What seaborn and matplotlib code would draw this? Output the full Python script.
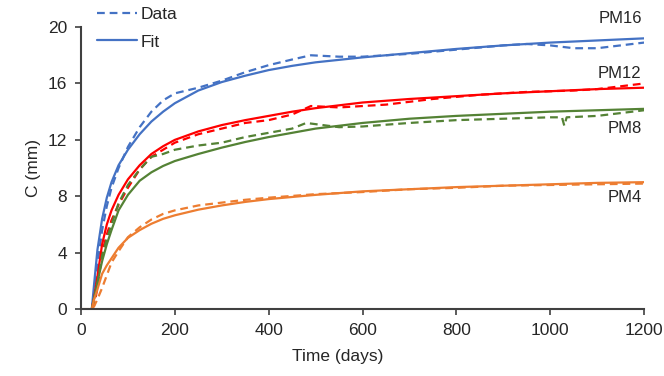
import numpy as np
import pandas as pd
import matplotlib
matplotlib.use('Agg')
import matplotlib.pyplot as plt
from matplotlib.lines import Line2D
import seaborn as sns

# fitted curves
fit_t = [23, 28, 35, 45, 55, 65, 80, 100, 125, 150, 175, 200, 250, 300, 350, 400,
         450, 500, 600, 700, 800, 900, 1000, 1100, 1200]
fit_pm16 = [0, 1.8, 4.2, 6.4, 7.9, 9.0, 10.2, 11.3, 12.4, 13.3, 14.0, 14.6, 15.5,
            16.1, 16.55, 16.95, 17.25, 17.5, 17.85, 18.15, 18.45, 18.7, 18.9, 19.05,
            19.2]
fit_pm12 = [0, 0.8, 2.3, 4.6, 6.0, 7.0, 8.1, 9.2, 10.2, 11.0, 11.55, 12.0, 12.6,
            13.05, 13.4, 13.7, 14.0, 14.25, 14.65, 14.9, 15.1, 15.3, 15.45, 15.6, 15.7]
fit_pm8 = [0, 0.8, 1.9, 3.4, 4.6, 5.6, 7.0, 8.1, 9.1, 9.7, 10.15, 10.5, 11.0, 11.45,
           11.85, 12.2, 12.5, 12.8, 13.2, 13.5, 13.7, 13.85, 14.0, 14.1, 14.2]
fit_pm4 = [0, 0.7, 1.4, 2.5, 3.1, 3.6, 4.35, 5.05, 5.6, 6.05, 6.4, 6.65, 7.05, 7.35,
           7.6, 7.8, 7.95, 8.1, 8.35, 8.5, 8.65, 8.75, 8.85, 8.95, 9.0]

# measured data
pm16_t = [23, 28, 35, 45, 55, 65, 80, 100, 125, 150, 175, 200, 225, 250, 300, 350,
          400, 450, 490, 550, 600, 700, 800, 900, 950, 1000, 1050, 1100, 1150, 1200]
pm16_c = [0, 1.0, 3.2, 5.6, 7.3, 8.6, 10.0, 11.5, 12.9, 14.0, 14.8, 15.3, 15.5, 15.7,
          16.2, 16.8, 17.3, 17.7, 18.0, 17.9, 17.9, 18.1, 18.4, 18.7, 18.8, 18.7,
          18.5, 18.5, 18.7, 18.9]
pm12_t = [23, 28, 35, 45, 55, 65, 80, 100, 125, 150, 175, 200, 250, 300, 350, 400,
          450, 490, 550, 650, 750, 850, 950, 1000, 1050, 1100, 1150, 1200]
pm12_c = [0, 0.3, 1.5, 4.0, 5.3, 6.3, 7.4, 8.6, 9.9, 10.8, 11.3, 11.8, 12.4, 12.8,
          13.2, 13.4, 13.8, 14.4, 14.3, 14.5, 14.9, 15.2, 15.4, 15.45, 15.5, 15.6,
          15.8, 16.0]
pm8_t = [23, 28, 35, 45, 55, 65, 80, 100, 125, 150, 175, 200, 250, 300, 350, 400,
         450, 480, 550, 600, 700, 800, 900, 1000, 1025, 1030, 1035, 1100, 1150, 1200]
pm8_c = [0, 0.5, 1.8, 3.8, 5.0, 6.0, 7.5, 8.8, 9.9, 10.8, 11.0, 11.3, 11.6, 11.8,
         12.2, 12.5, 12.8, 13.2, 12.9, 12.95, 13.2, 13.4, 13.5, 13.6, 13.6, 13.0,
         13.6, 13.7, 13.9, 14.1]
pm4_t = [0, 23, 28, 35, 45, 55, 65, 80, 100, 125, 150, 175, 200, 250, 300, 350, 400,
         500, 600, 700, 800, 900, 1000, 1100, 1200]
pm4_c = [0, 0, 0.2, 0.7, 1.5, 2.4, 3.3, 4.1, 5.1, 5.8, 6.35, 6.75, 7.0, 7.35, 7.55,
         7.75, 7.9, 8.15, 8.3, 8.5, 8.6, 8.75, 8.8, 8.85, 8.9]

names = ['PM16', 'PM12', 'PM8', 'PM4']
colors = {'PM16': '#4472C4', 'PM12': '#FF0000', 'PM8': '#548235', 'PM4': '#ED7D31'}
label_pos = {'PM16': 20.6, 'PM12': 16.7, 'PM8': 12.8, 'PM4': 7.9}

fits = {'PM16': fit_pm16, 'PM12': fit_pm12, 'PM8': fit_pm8, 'PM4': fit_pm4}
data = {'PM16': (pm16_t, pm16_c), 'PM12': (pm12_t, pm12_c),
        'PM8': (pm8_t, pm8_c), 'PM4': (pm4_t, pm4_c)}

sns.set_style('white')
plt.rcParams['font.family'] = ['Liberation Sans', 'DejaVu Sans']

fig = plt.figure(figsize=(6.64, 3.76), dpi=100)
ax = fig.add_axes([0.122, 0.178, 0.848, 0.75])

dash = (0, (3.5, 2.2))
for n in names:
    t, c = data[n]
    sns.lineplot(x=t, y=c, ax=ax, color=colors[n], lw=1.6, linestyle=dash,
                 sort=False, estimator=None)
    sns.lineplot(x=fit_t, y=fits[n], ax=ax, color=colors[n], lw=1.6,
                 sort=False, estimator=None)
    ax.text(1195, label_pos[n], n, ha='right', va='center', fontsize=12,
            color='#262626', clip_on=False)

ax.set_xlim(0, 1200)
ax.set_ylim(0, 20)
ax.set_xticks(range(0, 1201, 200))
ax.set_yticks(range(0, 21, 4))
ax.set_xlabel('Time (days)', fontsize=12.5, color='#262626')
ax.set_ylabel('C (mm)', fontsize=12.5, color='#262626')
ax.xaxis.set_label_coords(0.455, -0.14)
ax.yaxis.set_label_coords(-0.071, 0.5)
ax.tick_params(axis='both', labelsize=12.5, colors='#262626', direction='out',
               length=4, width=1.2, color='#404040', bottom=True, left=True, pad=6)
for s in ['top', 'right']:
    ax.spines[s].set_visible(False)
for s in ['left', 'bottom']:
    ax.spines[s].set_color('#404040')
    ax.spines[s].set_linewidth(1.5)

handles = [Line2D([], [], color='#4472C4', lw=1.6, linestyle=dash),
           Line2D([], [], color='#4472C4', lw=1.6)]
ax.legend(handles, ['Data', 'Fit'], loc='upper left', bbox_to_anchor=(0.028, 1.072),
          frameon=False, fontsize=12.5, handlelength=2.3, handletextpad=0.2,
          labelspacing=0.72, borderaxespad=0, borderpad=0)

fig.savefig('out.png', dpi=100)
